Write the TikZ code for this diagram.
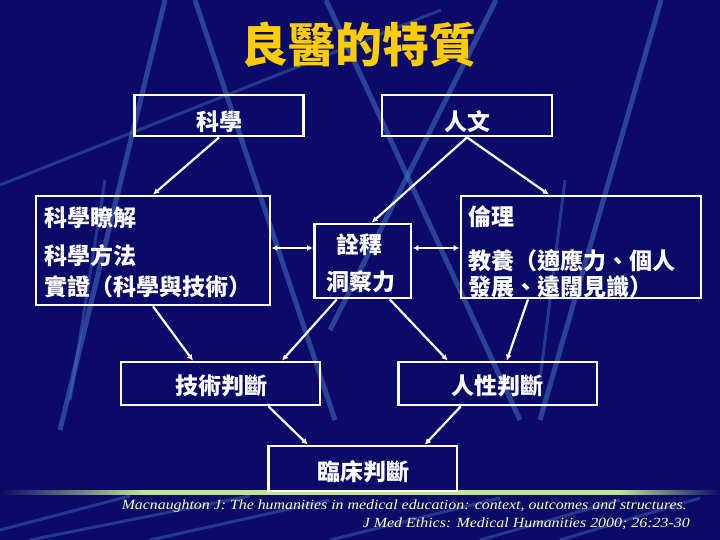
\documentclass[tikz,border=0pt]{standalone}
\usepackage{fontspec}
\usepackage{graphicx}
\setmainfont{Liberation Serif}
\newfontfamily\cjk{Noto Sans CJK TC}
\usetikzlibrary{arrows.meta}
\definecolor{bgnavy}{RGB}{10,10,105}
\definecolor{streak}{RGB}{75,125,195}
\definecolor{titleyellow}{RGB}{255,204,0}
\definecolor{citecol}{RGB}{255,255,190}
\definecolor{glow}{RGB}{190,230,140}
\pgfdeclarehorizontalshading{glowline}{100bp}{color(0bp)=(bgnavy); color(25bp)=(bgnavy); color(35bp)=(glow); color(68bp)=(glow); color(75bp)=(bgnavy); color(100bp)=(bgnavy)}
\begin{document}
\begin{tikzpicture}[x=1pt,y=-1pt,
  boxshape/.style={draw=white,line width=2.8pt,inner sep=0pt},
  label/.style={text=white,inner sep=0pt,font={\cjk\bfseries\fontsize{23pt}{27pt}\selectfont}},
  conn/.style={draw=white,line width=2.2pt,-{Latex[length=6pt,width=6pt]}},
  dconn/.style={draw=white,line width=2.2pt,{Latex[length=6pt,width=6pt]}-{Latex[length=6pt,width=6pt]}},
  streakline/.style={draw=streak,line width=5pt,opacity=0.5},
  thinstreak/.style={draw=streak,line width=3pt,opacity=0.4}]
% background
\fill[bgnavy] (0,0) rectangle (720,540);
\useasboundingbox (0,0) rectangle (720,540);
\begin{scope}
\clip (0,0) rectangle (720,488);
\draw[streakline] (165,0) -- (60,430);
\draw[thinstreak] (105,180) -- (70,400);
\draw[streakline] (195,0) -- (335,420);
\draw[streakline] (326,0) -- (520,420);
\draw[streakline] (496,0) -- (330,330);
\draw[streakline] (661,0) -- (540,420);
\draw[thinstreak] (441,10) -- (0,185);
\draw[thinstreak] (565,180) -- (540,380);
\end{scope}
\begin{scope}
\clip (0,494) rectangle (720,540);
\draw[thinstreak] (0,530) -- (130,496);
\draw[thinstreak] (30,540) -- (250,496);
\draw[thinstreak] (150,540) -- (330,500);
\draw[thinstreak] (330,540) -- (500,498);
\draw[thinstreak] (480,540) -- (620,500);
\draw[thinstreak] (560,540) -- (700,498);
\end{scope}
% green line
\shade[shading=glowline] (0,490) rectangle (720,494);
% title
\node[text=titleyellow,inner sep=0pt,font={\cjk\bfseries\fontsize{47pt}{52pt}\selectfont}] (title) at (359,45) {良醫的特質};
% boxes
\node[boxshape,minimum width=169pt,minimum height=41pt] (kx) at (219,115.5) {};
\node[boxshape,minimum width=170pt,minimum height=41pt] (rw) at (467,115.5) {};
\node[boxshape,minimum width=234pt,minimum height=109pt] (lb) at (153,250.5) {};
\node[boxshape,minimum width=96.5pt,minimum height=74pt] (mb) at (362.75,261) {};
\node[boxshape,minimum width=240pt,minimum height=102pt] (rb) at (581,247) {};
\node[boxshape,minimum width=199pt,minimum height=43pt] (tj) at (220.5,383.5) {};
\node[boxshape,minimum width=198.5pt,minimum height=43pt] (hj) at (497.75,383.5) {};
\node[boxshape,minimum width=188.5pt,minimum height=45pt] (cj) at (362.8,468.5) {};
% texts
\node[label] (tkx) at (219,122) {科學};
\node[label] (trw) at (467,122) {人文};
\node[label,anchor=west] (tl1) at (44,218) {科學瞭解};
\node[label,anchor=west] (tl2) at (44,256) {科學方法};
\node[label,anchor=west] (tl3) at (44,287) {實證（科學與技術）};
\node[label] (tm1) at (359,244.5) {詮釋};
\node[label] (tm2) at (361,281.5) {洞察力};
\node[label,anchor=west] (tr1) at (468,217) {倫理};
\node[label,anchor=west] (tr2) at (468,261) {教養（適應力、個人};
\node[label,anchor=west] (tr3) at (468,287) {發展、遠闊見識）};
\node[label] (ttj) at (221.5,386) {技術判斷};
\node[label] (thj) at (497,386) {人性判斷};
\node[label] (tcj) at (363,472) {臨床判斷};
% connectors
\draw[conn] (kx.south) -- (lb.north);
\draw[conn] (rw.south) -- ([xshift=9pt]mb.north);
\draw[conn] (rw.south) -- ([xshift=-32pt]rb.north);
\coordinate (ml) at ([yshift=13pt]mb.west);
\coordinate (mr) at ([yshift=13pt]mb.east);
\draw[dconn] (lb.east |- ml) -- (ml);
\draw[dconn] (mr) -- (rb.west |- mr);
\draw[conn] (lb.south) -- ([xshift=-27.5pt]tj.north);
\draw[conn] ([xshift=-26pt]mb.south) -- ([xshift=61.5pt]tj.north);
\draw[conn] ([xshift=27pt]mb.south) -- ([xshift=-50pt]hj.north);
\draw[conn] ([xshift=-53pt]rb.south) -- ([xshift=9pt]hj.north);
\draw[conn] ([xshift=48pt]tj.south) -- ([xshift=-55pt]cj.north);
\draw[conn] ([xshift=-37pt]hj.south) -- ([xshift=62pt]cj.north);
% citation
\node[anchor=base east,inner sep=0pt,text=citecol,font={\itshape\fontsize{14pt}{16pt}\selectfont}] (cite1) at (687,509) {\resizebox{565pt}{\height}{Macnaughton J: The humanities in medical education: context, outcomes and structures.}};
\node[anchor=base east,inner sep=0pt,text=citecol,font={\itshape\fontsize{14pt}{16pt}\selectfont}] (cite2) at (690,527.5) {\resizebox{327pt}{\height}{J Med Ethics: Medical Humanities 2000; 26:23-30}};
\end{tikzpicture}
\end{document}
